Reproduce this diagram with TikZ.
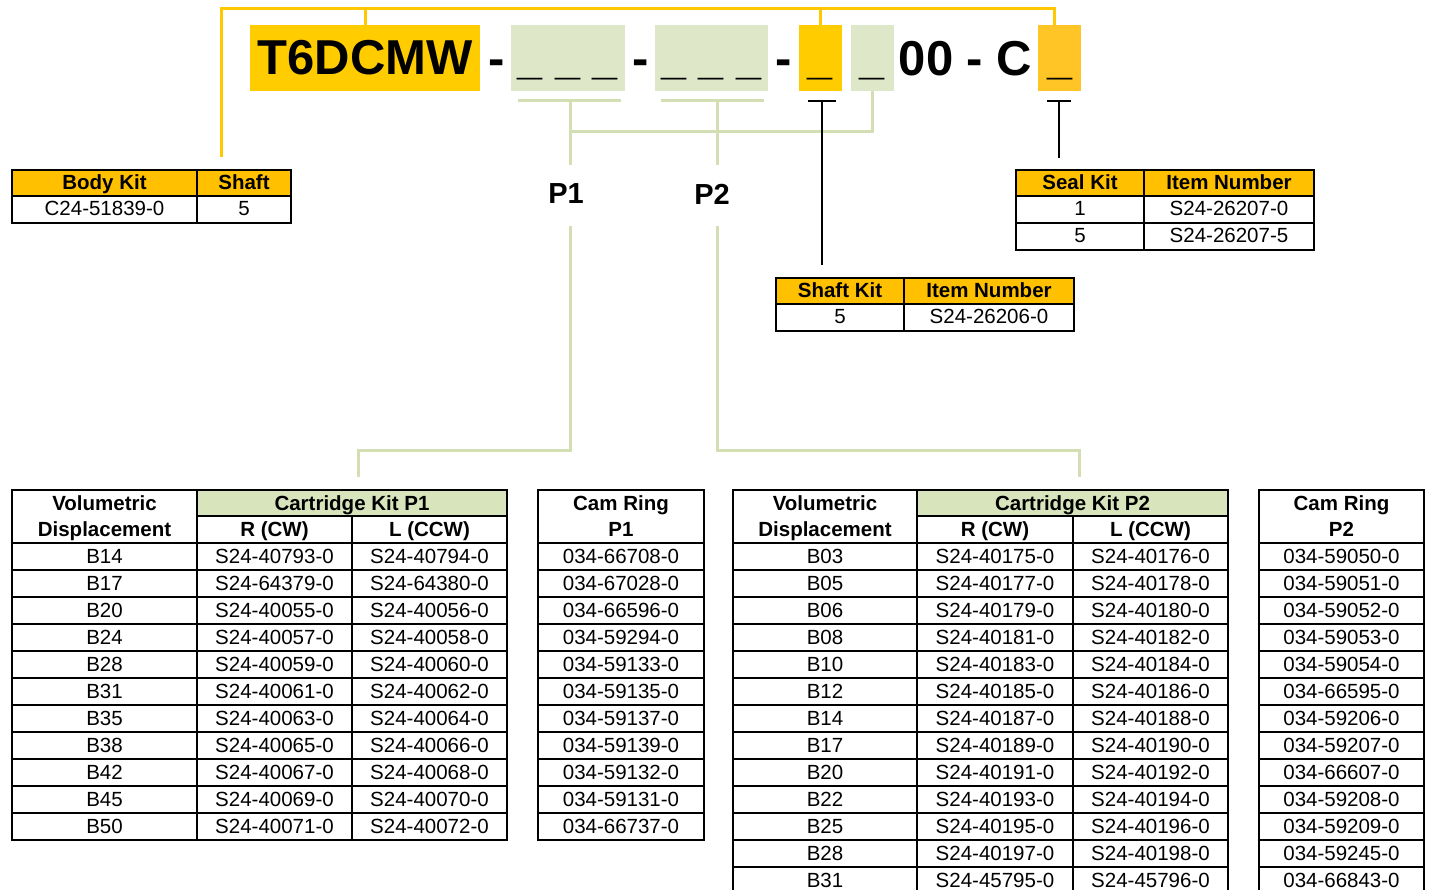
\documentclass[tikz,border=0pt]{standalone}
\usepackage{fontspec}
\setmainfont{Liberation Sans}
\definecolor{yel}{HTML}{FFCC00}
\definecolor{orng}{HTML}{FFC425}
\definecolor{hdr}{HTML}{FFC000}
\definecolor{grn}{HTML}{DFE7C9}
\definecolor{cgrn}{HTML}{D8E4BC}
\definecolor{linegrn}{HTML}{D3DFB2}
\definecolor{lineyel}{HTML}{FFC800}
\newcommand\tf{\fontsize{20.5}{25}\selectfont}
\newcommand\tfb{\bfseries\fontsize{20.5}{25}\selectfont}
\newcommand\bigf{\bfseries\fontsize{49}{55}\selectfont}
\newcommand\undf{\bfseries\fontsize{45}{50}\selectfont}
\newcommand\pf{\bfseries\fontsize{29}{32}\selectfont}
% name, x1, y1, x2, y2, fill, font, text
\newcommand\tcell[8]{%
  \filldraw[line width=2.4pt, draw=black, fill=#6] (#2,#3) rectangle (#4,#5);
  \node[inner sep=0pt, anchor=base, font=#7] (#1) at ({(#2+#4)/2},{#3+20}) {#8};}
\begin{document}
\begin{tikzpicture}[x=1pt,y=-1pt,
  yline/.style={draw=lineyel, line width=3pt},
  gline/.style={draw=linegrn, line width=3pt},
  kline/.style={draw=black, line width=2.6pt},
  topbox/.style={inner sep=0pt, minimum height=66pt},
  txt/.style={inner sep=0pt, anchor=base}]
\useasboundingbox (0,0) rectangle (1429,890);
\fill[white] (0,0) rectangle (1429,890);

% ---------- model code ----------
\node[topbox, fill=yel, minimum width=230pt, font=\bigf] (model) at (365,58) {T6DCMW};
\node[txt, font=\bigf] (d1) at (497,75.5) {-};
\node[topbox, fill=grn, minimum width=114pt] (g1) at (568,58) {};
\node[txt, font=\undf] (u1) at (568,74.5) {\_ \_ \_};
\node[txt, font=\bigf] (d2) at (641,75.5) {-};
\node[topbox, fill=grn, minimum width=113pt] (g2) at (711.5,58) {};
\node[txt, font=\undf] (u2) at (711.5,74.5) {\_ \_ \_};
\node[txt, font=\bigf] (d3) at (784,75.5) {-};
\node[topbox, fill=yel, minimum width=43pt] (y3) at (820.5,58) {};
\node[txt, font=\undf] (u3) at (820.5,74.5) {\_};
\node[topbox, fill=grn, minimum width=43pt] (g3) at (872.5,58) {};
\node[txt, font=\undf] (u4) at (872.5,74.5) {\_};
\node[txt, font=\bigf] (tail) at (965.5,75.5) {00 - C};
\node[topbox, fill=orng, minimum width=43pt] (o4) at (1059.5,58) {};
\node[txt, font=\undf] (u5) at (1059.5,74.5) {\_};

% ---------- yellow connectors ----------
\coordinate (bk) at (221,157);
\coordinate (yl) at (221,9);
\coordinate (yr) at (1054,9);
\draw[yline] (bk) -- (yl) -- (yr) -- (yr |- o4.north);
\draw[yline] (model.north) -- (model.north |- yl);
\draw[yline] (y3.north) -- (y3.north |- yl);

% ---------- green connectors ----------
\draw[gline] (518,101) -- (621,101);
\draw[gline] (661,101) -- (764,101);
\coordinate (b1) at (570,101);
\coordinate (b2) at (717,101);
\coordinate (b1e) at (570,165);
\coordinate (b2e) at (717,165);
\draw[gline] (b1) -- (b1e);
\draw[gline] (b2) -- (b2e);
\draw[gline] (570,132) -| (g3.south);
\node[font=\pf, inner sep=0pt] (P1) at (566,194) {P1};
\node[font=\pf, inner sep=0pt] (P2) at (712,194) {P2};
\coordinate (p1s) at (570,226);
\coordinate (p1m) at (570,450);
\coordinate (t1) at (358,477);
\draw[gline] (p1s) -- (p1m) -| (t1);
\coordinate (p2s) at (717,226);
\coordinate (p2m) at (717,450);
\coordinate (t2) at (1079,477);
\draw[gline] (p2s) -- (p2m) -| (t2);

% ---------- black connectors ----------
\coordinate (sa) at (822,101);
\coordinate (sb) at (822,265);
\draw[kline] (808,101) -- (836,101);
\draw[kline] (sa) -- (sb);
\coordinate (ka) at (1059,101);
\coordinate (kb) at (1059,158);
\draw[kline] (1047,101) -- (1071,101);
\draw[kline] (ka) -- (kb);

% ---------- body kit ----------
\tcell{bk1}{12}{170}{197}{196}{hdr}{\tfb}{Body Kit}
\tcell{bk2}{197}{170}{291}{196}{hdr}{\tfb}{Shaft}
\tcell{bk3}{12}{196}{197}{223}{white}{\tf}{C24-51839-0}
\tcell{bk4}{197}{196}{291}{223}{white}{\tf}{5}

% ---------- seal kit ----------
\tcell{sk1}{1016}{170}{1144}{196}{hdr}{\tfb}{Seal Kit}
\tcell{sk2}{1144}{170}{1314}{196}{hdr}{\tfb}{Item Number}
\tcell{sk3}{1016}{196}{1144}{223}{white}{\tf}{1}
\tcell{sk4}{1144}{196}{1314}{223}{white}{\tf}{S24-26207-0}
\tcell{sk5}{1016}{223}{1144}{250}{white}{\tf}{5}
\tcell{sk6}{1144}{223}{1314}{250}{white}{\tf}{S24-26207-5}

% ---------- shaft kit ----------
\tcell{hk1}{776}{278}{904}{304}{hdr}{\tfb}{Shaft Kit}
\tcell{hk2}{904}{278}{1074}{304}{hdr}{\tfb}{Item Number}
\tcell{hk3}{776}{304}{904}{331}{white}{\tf}{5}
\tcell{hk4}{904}{304}{1074}{331}{white}{\tf}{S24-26206-0}

% ---------- P1 tables ----------
\tcell{v1}{12}{490}{197}{543}{white}{\tfb}{Volumetric}
\node[txt, font=\tfb] (v1b) at (104.5,536) {Displacement};
\tcell{ck1}{197}{490}{507}{516}{cgrn}{\tfb}{Cartridge Kit P1}
\tcell{r1}{197}{516}{352}{543}{white}{\tfb}{R (CW)}
\tcell{l1}{352}{516}{507}{543}{white}{\tfb}{L (CCW)}
\tcell{cr1}{538}{490}{704}{543}{white}{\tfb}{Cam Ring}
\node[txt, font=\tfb] (cr1b) at (621,536) {P1};
\foreach \v/\r/\l/\c [count=\i from 0] in {
  B14/S24-40793-0/S24-40794-0/034-66708-0,
  B17/S24-64379-0/S24-64380-0/034-67028-0,
  B20/S24-40055-0/S24-40056-0/034-66596-0,
  B24/S24-40057-0/S24-40058-0/034-59294-0,
  B28/S24-40059-0/S24-40060-0/034-59133-0,
  B31/S24-40061-0/S24-40062-0/034-59135-0,
  B35/S24-40063-0/S24-40064-0/034-59137-0,
  B38/S24-40065-0/S24-40066-0/034-59139-0,
  B42/S24-40067-0/S24-40068-0/034-59132-0,
  B45/S24-40069-0/S24-40070-0/034-59131-0,
  B50/S24-40071-0/S24-40072-0/034-66737-0}{
  \pgfmathsetmacro\ya{543+27*\i}
  \pgfmathsetmacro\yb{570+27*\i}
  \tcell{pa\i}{12}{\ya}{197}{\yb}{white}{\tf}{\v}
  \tcell{pb\i}{197}{\ya}{352}{\yb}{white}{\tf}{\r}
  \tcell{pc\i}{352}{\ya}{507}{\yb}{white}{\tf}{\l}
  \tcell{pd\i}{538}{\ya}{704}{\yb}{white}{\tf}{\c}
}

% ---------- P2 tables ----------
\tcell{v2}{733}{490}{917}{543}{white}{\tfb}{Volumetric}
\node[txt, font=\tfb] (v2b) at (825,536) {Displacement};
\tcell{ck2}{917}{490}{1228}{516}{cgrn}{\tfb}{Cartridge Kit P2}
\tcell{r2}{917}{516}{1073}{543}{white}{\tfb}{R (CW)}
\tcell{l2}{1073}{516}{1228}{543}{white}{\tfb}{L (CCW)}
\tcell{cr2}{1259}{490}{1424}{543}{white}{\tfb}{Cam Ring}
\node[txt, font=\tfb] (cr2b) at (1341.5,536) {P2};
\foreach \v/\r/\l/\c [count=\i from 0] in {
  B03/S24-40175-0/S24-40176-0/034-59050-0,
  B05/S24-40177-0/S24-40178-0/034-59051-0,
  B06/S24-40179-0/S24-40180-0/034-59052-0,
  B08/S24-40181-0/S24-40182-0/034-59053-0,
  B10/S24-40183-0/S24-40184-0/034-59054-0,
  B12/S24-40185-0/S24-40186-0/034-66595-0,
  B14/S24-40187-0/S24-40188-0/034-59206-0,
  B17/S24-40189-0/S24-40190-0/034-59207-0,
  B20/S24-40191-0/S24-40192-0/034-66607-0,
  B22/S24-40193-0/S24-40194-0/034-59208-0,
  B25/S24-40195-0/S24-40196-0/034-59209-0,
  B28/S24-40197-0/S24-40198-0/034-59245-0,
  B31/S24-45795-0/S24-45796-0/034-66843-0}{
  \pgfmathsetmacro\ya{543+27*\i}
  \pgfmathsetmacro\yb{570+27*\i}
  \tcell{qa\i}{733}{\ya}{917}{\yb}{white}{\tf}{\v}
  \tcell{qb\i}{917}{\ya}{1073}{\yb}{white}{\tf}{\r}
  \tcell{qc\i}{1073}{\ya}{1228}{\yb}{white}{\tf}{\l}
  \tcell{qd\i}{1259}{\ya}{1424}{\yb}{white}{\tf}{\c}
}
\end{tikzpicture}
\end{document}
